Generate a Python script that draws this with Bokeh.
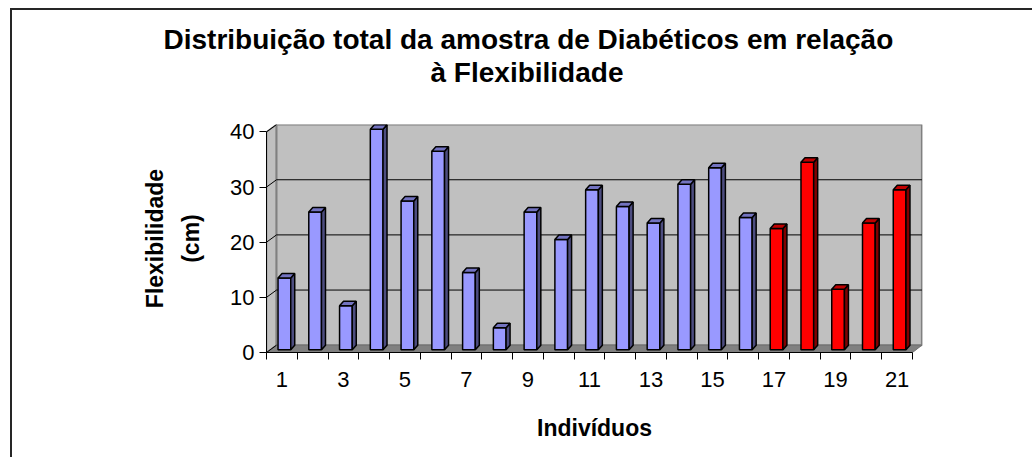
from bokeh.plotting import figure
from bokeh.models import FixedTicker, Range1d, Title
from bokeh.embed import file_html
from bokeh.resources import INLINE

# ---- data ----
individuos = list(range(1, 22))
flexibilidade = [13, 25, 8, 40, 27, 36, 14, 4, 25, 20, 29, 26, 23, 30, 33, 24, 22, 34, 11, 23, 29]
grupo = ["A"] * 16 + ["B"] * 5
x_tick_labels = [1, 3, 5, 7, 9, 11, 13, 15, 17, 19, 21]
y_ticks = [0, 10, 20, 30, 40]
titulo_1 = "Distribuição total da amostra de Diabéticos em relação"
titulo_2 = "à Flexibilidade"
rotulo_x = "Indivíduos"
rotulo_y = "Flexibilidade\n(cm)"

# ---- styles ----
front_col = {"A": "#9999FF", "B": "#FF0000"}
side_col = {"A": "#4D4D80", "B": "#800000"}
top_col = {"A": "#7373C0", "B": "#C00000"}
FONT = "Liberation Sans"

n = len(individuos)
ymax = max(y_ticks)
W, H = 1022, 449
ML, MR, MT, MB = 254, 112, 114, 107
fw, fh = W - ML - MR, H - MT - MB
px_x = 646 / n          # px per category on front plane
px_y = 220.6 / ymax     # px per unit on front plane
dx = 10 / px_x          # depth offset of back wall (data units)
dy = 7.3 / px_y
x0 = 0.5
x1 = n + 0.5
x_end = x0 + fw / px_x
y_end = fh / px_y

p = figure(width=W, height=H, output_backend="svg", toolbar_location=None,
           x_range=Range1d(x0, x_end), y_range=Range1d(0, y_end),
           min_border_left=ML, min_border_right=MR, min_border_top=MT, min_border_bottom=MB,
           styles={"margin-left": "10px", "margin-top": "8px",
                   "border-left": "2px solid #262626", "border-top": "2px solid #262626"})
p.title.visible = False
p.outline_line_color = None
p.xgrid.visible = False
p.ygrid.visible = False
p.background_fill_color = "white"
p.border_fill_color = "white"

# walls
p.patch([x0, x0, x0 + dx, x0 + dx], [0, ymax, ymax + dy, dy],
        fill_color="#C0C0C0", line_color="#808080", line_width=1.5)
p.quad(left=[x0 + dx], right=[x_end - 0.02], bottom=[dy], top=[ymax + dy],
       fill_color="#C0C0C0", line_color="#808080", line_width=2)
p.patch([x0, x0 + dx, x_end - 0.02, x1], [0, dy, dy, 0],
        fill_color="#808080", line_color="#707070", line_width=1)
gl = [v for v in y_ticks if 0 < v < ymax]
p.segment(x0=[x0 + dx] * len(gl), y0=[v + dy for v in gl],
          x1=[x_end - 0.02] * len(gl), y1=[v + dy for v in gl], line_color="black", line_width=1)
p.segment(x0=[x0] * len(y_ticks), y0=y_ticks, x1=[x0 + dx] * len(y_ticks),
          y1=[v + dy for v in y_ticks], line_color="black", line_width=1)

# 3D bars
fx, fy = 2.5 / px_x, 2.7 / px_y
hw = 6.35 / px_x
sx, sy = 4 / px_x, 4.5 / px_y
xs_c = [i + fx for i in individuos]
p.vbar(x=xs_c, width=2 * hw, bottom=fy, top=[v + fy for v in flexibilidade],
       fill_color=[front_col[g] for g in grupo], line_color="black", line_width=1.5)
side_xs, side_ys, top_xs, top_ys = [], [], [], []
for xc, v in zip(xs_c, flexibilidade):
    t = v + fy
    side_xs.append([xc + hw, xc + hw + sx, xc + hw + sx, xc + hw])
    side_ys.append([fy, fy + sy, t + sy, t])
    top_xs.append([xc - hw, xc - hw + sx, xc + hw + sx, xc + hw])
    top_ys.append([t, t + sy, t + sy, t])
p.patches(side_xs, side_ys, fill_color=[side_col[g] for g in grupo], line_color="black", line_width=1.5)
p.patches(top_xs, top_ys, fill_color=[top_col[g] for g in grupo], line_color="black", line_width=1.5)

# axes
xa = p.xaxis[0]
xa.ticker = FixedTicker(ticks=x_tick_labels, minor_ticks=[i + 0.5 for i in range(0, n + 1)])
xa.bounds = (x0, x1)
xa.axis_line_color = "black"
xa.major_tick_line_color = None
xa.major_tick_out = 7
xa.major_tick_in = 0
xa.minor_tick_line_color = "black"
xa.minor_tick_out = 7
xa.minor_tick_in = 0
xa.major_label_standoff = 12
xa.major_label_text_font = FONT
xa.major_label_text_font_size = "22px"
xa.major_label_text_color = "black"
xa.axis_label = rotulo_x
xa.axis_label_text_font = FONT
xa.axis_label_text_font_size = "23px"
xa.axis_label_text_font_style = "bold"
xa.axis_label_text_color = "black"
xa.axis_label_standoff = 25

ya = p.yaxis[0]
ya.ticker = FixedTicker(ticks=y_ticks, minor_ticks=[])
ya.bounds = (0, ymax)
ya.axis_line_color = "black"
ya.major_tick_line_color = "black"
ya.major_tick_out = 7
ya.major_tick_in = 0
ya.minor_tick_line_color = None
ya.major_label_standoff = 5
ya.major_label_text_font = FONT
ya.major_label_text_font_size = "22px"
ya.major_label_text_color = "black"
ya.axis_label = rotulo_y
ya.axis_label_text_font = FONT
ya.axis_label_text_font_size = "23px"
ya.axis_label_text_font_style = "bold"
ya.axis_label_text_color = "black"
ya.axis_label_text_line_height = 1.4
ya.axis_label_standoff = 23

# titles: spacer next to the plot, then second line, then first line
p.add_layout(Title(text=" ", text_font=FONT, text_font_size="31px", standoff=0), "above")
p.add_layout(Title(text=titulo_2, align="left", offset=164, text_font=FONT, text_font_size="28px",
                   text_font_style="bold", text_color="black", standoff=0), "above")
p.add_layout(Title(text=titulo_1, align="left", offset=-103, text_font=FONT, text_font_size="28px",
                   text_font_style="bold", text_color="black", standoff=0), "above")

open("out.html", "w").write(file_html(p, INLINE))
